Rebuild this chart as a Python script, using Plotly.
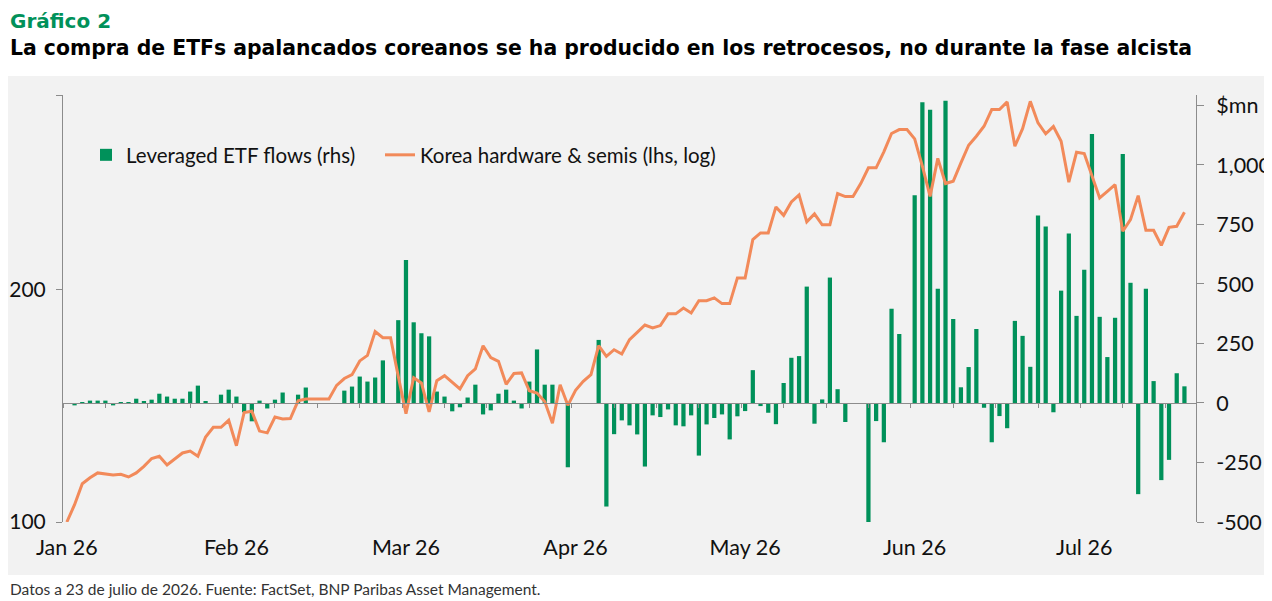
import pandas as pd
import plotly.graph_objects as go

# business days shown on the category axis (Jan 1 - Jul 23, 2026)
dates = pd.bdate_range("2026-01-01", "2026-07-23")

# Korea hardware & semis, rebased to 100 (left axis, log)
korea_semis = [
    100.0, 105.3, 112.1, 114.1, 115.8, 115.4, 115.1, 115.3, 114.4, 115.8,
    118.1, 120.9, 121.7, 118.6, 120.9, 122.9, 123.6, 121.7, 128.9, 132.7,
    132.7, 135.5, 125.6, 138.7, 139.2, 131.2, 130.5, 136.8, 136.0, 136.2,
    143.6, 144.4, 144.4, 144.4, 144.4, 150.4, 153.5, 155.3, 161.8, 164.5,
    176.6, 173.4, 173.4, 154.5, 138.2, 153.9, 151.5, 138.9, 152.5, 154.8,
    151.9, 148.8, 154.8, 158.0, 169.3, 163.4, 161.6, 150.9, 155.8, 156.1,
    148.0, 147.0, 143.3, 134.3, 150.7, 141.7, 148.2, 152.2, 155.3, 169.3,
    164.0, 167.3, 165.2, 172.4, 176.2, 180.1, 178.5, 179.8, 186.2, 186.2,
    189.5, 186.7, 193.7, 193.7, 195.3, 192.0, 192.0, 207.3, 207.3, 232.4,
    237.1, 237.1, 256.3, 249.9, 260.1, 265.6, 245.1, 251.0, 242.9, 242.9,
    266.7, 264.3, 264.3, 274.8, 288.0, 288.0, 302.1, 319.1, 322.9, 322.9,
    314.0, 289.4, 264.5, 296.3, 274.8, 276.7, 292.3, 308.1, 316.5, 326.1,
    342.8, 342.8, 350.7, 307.2, 323.8, 351.3, 329.4, 318.8, 325.8, 311.8,
    275.9, 301.7, 300.5, 280.9, 263.3, 268.5, 273.9, 238.3, 246.7, 265.1,
    239.0, 239.0, 228.5, 241.1, 241.9, 252.2,
]

# leveraged ETF flows, $mn (right axis)
etf_flows = [
    0, -10, -4, 10, 10, 10, -10, -4, -4, 18,
    6, 14, 39, 27, 18, 18, 48, 73, 6, 0,
    35, 56, 27, -39, -77, 10, -23, 14, 44, 0,
    35, 65, 0, 0, 0, 0, 52, 69, 111, 90,
    107, 179, 0, 348, 601, 339, 293, 280, 48, 27,
    -35, -18, 23, 77, -48, -31, 39, 56, 10, -23,
    90, 225, 77, 77, 0, -270, 0, 0, 0, 265,
    -435, -131, -73, -94, -132, -267, -52, -59, -27, -94,
    -98, -52, -221, -90, -63, -48, -153, -56, -34, 138,
    -13, -41, -89, 84, 190, 197, 489, -87, 15, 527,
    58, -80, 0, 0, -505, -76, -165, 396, 290, 0,
    873, 1264, 1232, 480, 1270, 353, 66, 151, 311, -20,
    -165, -55, -106, 345, 282, 152, 788, 742, -39, 472,
    712, 366, 560, 1130, 362, 193, 358, 1046, 505, -383,
    480, 92, -324, -239, 125, 70,
]

flow_ticks = [-500, -250, 0, 250, 500, 750, 1000, 1250]
flow_ticktext = ["-500", "-250", "0", "250", "500", "750", "1,000", "$mn"]
semis_ticks = [100, 200]
label_every = 22

# the page puts the figure 8px in from the top-left corner
OFF = 8
W, H = 1272 - OFF, 601 - OFF
ml, mt = 63 - OFF, 95 - OFF
mr, mb = W - (1196 - OFF), H - (522 - OFF)
pw, ph = W - ml - mr, H - mt - mb

GREEN = "#00915A"
ORANGE = "#F28A5A"
GREY = "#8c8c8c"
BG = "#f2f2f2"
FONT = "Lato"
TITLE_FONT = "DejaVu Sans"

flow_range = [-500, 1294]
semis_top = 358
zero_pos = -flow_range[0] / (flow_range[1] - flow_range[0])


def px_x(p):
    # screen x -> paper fraction
    return (p - OFF - ml) / pw


def px_y(p):
    # screen y -> paper fraction
    return (H - mb - (p - OFF)) / ph


idx = list(range(len(dates)))
label_idx = idx[::label_every]

fig = go.Figure()
fig.add_trace(go.Bar(
    x=idx, y=etf_flows, name="Leveraged ETF flows (rhs)",
    marker_color=GREEN, marker_line_width=0, width=0.55,
    xaxis="x", yaxis="y", legend="legend",
))
fig.add_trace(go.Scatter(
    x=idx, y=korea_semis, name="Korea hardware & semis (lhs, log)",
    mode="lines", line=dict(color=ORANGE, width=3),
    xaxis="x2", yaxis="y2", legend="legend2",
))

tickfont = dict(family=FONT, size=21.5, color="#111111")
legfont = dict(family=FONT, size=20.5, color="#111111")

fig.update_layout(
    width=W, height=H,
    margin=dict(l=ml, r=mr, t=mt, b=mb, autoexpand=False),
    paper_bgcolor="white",
    plot_bgcolor=BG,
    font=dict(family=FONT, color="#111111"),
    showlegend=True,
    legend=dict(
        x=px_x(86), y=px_y(155), xanchor="left", yanchor="middle",
        bgcolor="rgba(0,0,0,0)", font=legfont,
    ),
    legend2=dict(
        x=px_x(380), y=px_y(155), xanchor="left", yanchor="middle",
        bgcolor="rgba(0,0,0,0)", font=legfont,
    ),
    xaxis=dict(
        range=[-0.5, len(dates) + 0.5], automargin=False,
        tickmode="array", tickvals=label_idx,
        ticktext=[dates[i].strftime("%b %y") for i in label_idx],
        ticks="", showline=False, showgrid=False, zeroline=False,
        tickfont=tickfont, ticklabelstandoff=10,
    ),
    xaxis2=dict(
        overlaying="x", matches="x", anchor="free", position=zero_pos,
        automargin=False,
        tickmode="linear", tick0=-0.5, dtick=5.5,
        ticks="outside", ticklen=4, tickcolor=GREY,
        showticklabels=False, showline=True, linecolor=GREY, linewidth=1,
        showgrid=False, zeroline=False,
    ),
    yaxis=dict(
        side="right", range=flow_range, automargin=False,
        tickmode="array", tickvals=flow_ticks, ticktext=flow_ticktext,
        ticks="outside", ticklen=7, tickcolor=GREY,
        showline=True, linecolor=GREY, linewidth=1,
        showgrid=False, zeroline=False,
        tickfont=tickfont, ticklabelstandoff=8,
    ),
    yaxis2=dict(
        overlaying="y", side="left", anchor="x", type="log",
        range=[2, 2.5539], automargin=False,
        tickmode="array", tickvals=semis_ticks + [semis_top - 0.1],
        ticktext=[str(v) for v in semis_ticks] + [""],
        ticks="outside", ticklen=6, tickcolor=GREY,
        showline=True, linecolor=GREY, linewidth=1,
        showgrid=False, zeroline=False,
        tickfont=dict(family=FONT, size=21, color="#111111"),
        ticklabelstandoff=6,
    ),
    shapes=[dict(
        type="rect", xref="paper", yref="paper", layer="below",
        x0=px_x(3), x1=px_x(1272), y0=px_y(575), y1=px_y(76),
        fillcolor=BG, line_width=0,
    )],
    annotations=[
        dict(text="<b>Gráfico 2</b>", xref="paper", yref="paper",
             x=px_x(8), y=px_y(21), xanchor="left", yanchor="middle",
             showarrow=False, font=dict(family=TITLE_FONT, size=20, color=GREEN)),
        dict(text="<b>La compra de ETFs apalancados coreanos se ha producido en los retrocesos, no durante la fase alcista</b>",
             xref="paper", yref="paper",
             x=px_x(8), y=px_y(48), xanchor="left", yanchor="middle",
             showarrow=False, font=dict(family=TITLE_FONT, size=20.4, color="#000000")),
        dict(text="Datos a 23 de julio de 2026. Fuente: FactSet, BNP Paribas Asset Management.",
             xref="paper", yref="paper",
             x=px_x(8), y=px_y(589), xanchor="left", yanchor="middle",
             showarrow=False, font=dict(family=FONT, size=15.5, color="#333333")),
    ],
)

fig.write_html("out.html")
